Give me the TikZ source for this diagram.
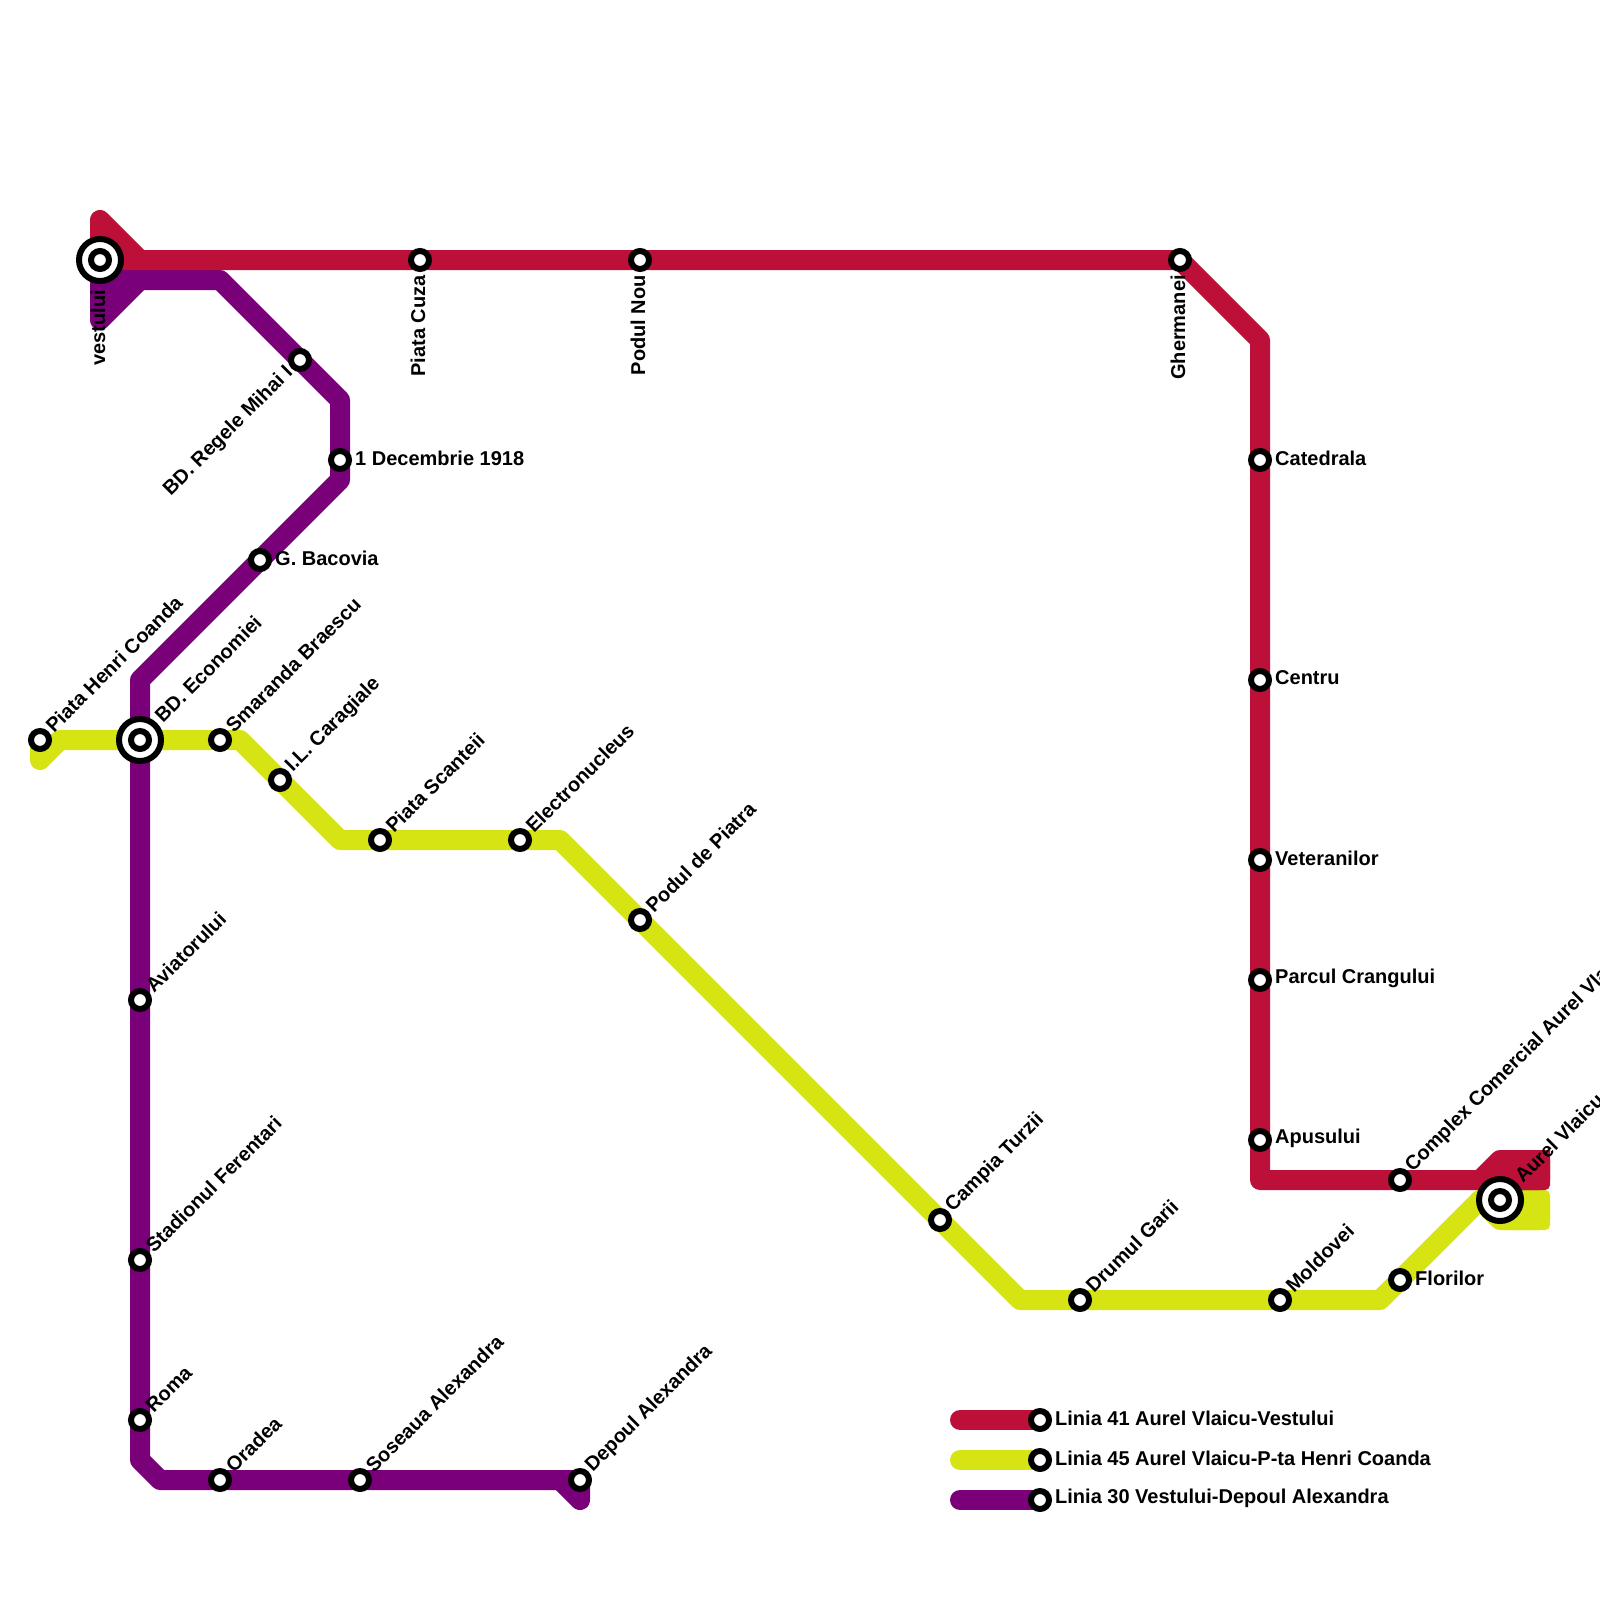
\documentclass[tikz,border=0pt]{standalone}
\usepackage{fontspec}
\setmainfont{Liberation Sans}
\usetikzlibrary{backgrounds}
\definecolor{linered}{HTML}{BC1038}
\definecolor{lineyellow}{HTML}{D7E413}
\definecolor{linepurple}{HTML}{790078}
\tikzset{
    every node/.style={font=\fontsize{20}{22}\selectfont\bfseries, inner sep=0pt},
    metro/.style={line width=20pt, line join=round, line cap=round},
    redline/.style={metro, draw=linered},
    yellowline/.style={metro, draw=lineyellow},
    purpleline/.style={metro, draw=linepurple},
    station/.style={circle, draw=black, fill=white, line width=6pt, minimum size=18pt},
    hub/.style={circle, draw=black, fill=white, line width=6pt, minimum size=42pt},
    lblup/.style={xshift=9pt, yshift=11pt, rotate=45, anchor=west},
    lblhub/.style={xshift=18pt, yshift=21pt, rotate=45, anchor=west},
    lblright/.style={xshift=15pt, yshift=2pt, anchor=west},
    lblvert/.style={yshift=#1, xshift=-2pt, rotate=90, anchor=east},
    lblvert/.default=-15pt,
    lbldown/.style={xshift=-10pt, yshift=-10pt, rotate=45, anchor=east}
}
\begin{document}
\begin{tikzpicture}[x=1pt, y=-1pt]
    \useasboundingbox (0,0) rectangle (1600,1600);

    \node[hub] (vestuluiRing) at (100,260) {};
    \node[station] (vestului) at (100,260) {};
    \node[station] (cuza) at (420,260) {};
    \node[station] (podulnou) at (640,260) {};
    \node[station] (ghermanei) at (1180,260) {};
    \node[station] (catedrala) at (1260,460) {};
    \node[station] (centru) at (1260,680) {};
    \node[station] (veteranilor) at (1260,860) {};
    \node[station] (parcul) at (1260,980) {};
    \node[station] (apusului) at (1260,1140) {};
    \node[station] (complex) at (1400,1180) {};
    \node[hub] (aurelRing) at (1500,1200) {};
    \node[station] (aurel) at (1500,1200) {};

    \node[station] (henri) at (40,740) {};
    \node[hub] (economieiRing) at (140,740) {};
    \node[station] (economiei) at (140,740) {};
    \node[station] (smaranda) at (220,740) {};
    \node[station] (caragiale) at (280,780) {};
    \node[station] (scanteii) at (380,840) {};
    \node[station] (electro) at (520,840) {};
    \node[station] (piatra) at (640,920) {};
    \node[station] (turzii) at (940,1220) {};
    \node[station] (garii) at (1080,1300) {};
    \node[station] (moldovei) at (1280,1300) {};
    \node[station] (florilor) at (1400,1280) {};

    \node[station] (mihai) at (300,360) {};
    \node[station] (decembrie) at (340,460) {};
    \node[station] (bacovia) at (260,560) {};
    \node[station] (aviatorului) at (140,1000) {};
    \node[station] (stadionul) at (140,1260) {};
    \node[station] (roma) at (140,1420) {};
    \node[station] (oradea) at (220,1480) {};
    \node[station] (soseaua) at (360,1480) {};
    \node[station] (depoul) at (580,1480) {};

    \node[station] (legendRed) at (1040,1420) {};
    \node[station] (legendYellow) at (1040,1460) {};
    \node[station] (legendPurple) at (1040,1500) {};

    \coordinate (redTop) at (100,220);
    \coordinate (redA) at (140,260);
    \coordinate (redB) at (1260,340);
    \coordinate (redC) at (1260,1180);
    \coordinate (redD) at (1480,1180);
    \coordinate (redE) at (1500,1160);
    \coordinate (redF) at (1540,1160);
    \coordinate (redG) at (1540,1180);

    \coordinate (yellowStub) at (40,760);
    \coordinate (yellowA) at (60,740);
    \coordinate (yellowB) at (240,740);
    \coordinate (yellowC) at (340,840);
    \coordinate (yellowD) at (560,840);
    \coordinate (yellowE) at (1020,1300);
    \coordinate (yellowF) at (1380,1300);
    \coordinate (yellowG) at (1480,1200);
    \coordinate (yellowH) at (1500,1220);
    \coordinate (yellowI) at (1540,1220);
    \coordinate (yellowJ) at (1540,1200);

    \coordinate (purpleStart) at (100,280);
    \coordinate (purpleStub) at (100,320);
    \coordinate (purpleA) at (140,280);
    \coordinate (purpleB) at (220,280);
    \coordinate (purpleC) at (340,400);
    \coordinate (purpleD) at (340,480);
    \coordinate (purpleE) at (140,680);
    \coordinate (purpleF) at (140,1460);
    \coordinate (purpleG) at (160,1480);
    \coordinate (purpleH) at (560,1480);
    \coordinate (purpleStubEnd) at (580,1500);

    \coordinate (legendRedStart) at (960,1420);
    \coordinate (legendYellowStart) at (960,1460);
    \coordinate (legendPurpleStart) at (960,1500);

    \begin{scope}[on background layer]
        \draw[yellowline] (henri.center) -- (yellowStub) -- (yellowA) -- (economiei.center) -- (smaranda.center) -- (yellowB) -- (caragiale.center) -- (yellowC) -- (scanteii.center) -- (electro.center) -- (yellowD) -- (piatra.center) -- (turzii.center) -- (yellowE) -- (garii.center) -- (moldovei.center) -- (yellowF) -- (florilor.center) -- (yellowG);
        \draw[yellowline, fill=lineyellow] (yellowG) -- (yellowH) -- (yellowI) -- (yellowJ) -- cycle;
        \fill[lineyellow, rounded corners=5pt] (1500,1190) -- (1550,1190) -- (1550,1230) -- (1500,1230) -- cycle;

        \draw[purpleline, fill=linepurple] (purpleStart) -- (purpleStub) -- (purpleA) -- cycle;
        \draw[purpleline] (purpleA) -- (purpleB) -- (purpleC) -- (decembrie.center) -- (purpleD) -- (bacovia.center) -- (purpleE) -- (economiei.center) -- (aviatorului.center) -- (stadionul.center) -- (roma.center) -- (purpleF) -- (purpleG) -- (oradea.center) -- (soseaua.center) -- (depoul.center);
        \draw[purpleline, fill=linepurple] (purpleH) -- (purpleStubEnd) -- (depoul.center) -- cycle;

        \draw[redline, fill=linered] (vestului.center) -- (redTop) -- (redA) -- cycle;
        \draw[redline] (redA) -- (cuza.center) -- (podulnou.center) -- (ghermanei.center) -- (redB) -- (catedrala.center) -- (centru.center) -- (veteranilor.center) -- (parcul.center) -- (apusului.center) -- (redC) -- (complex.center) -- (redD);
        \draw[redline, fill=linered] (redD) -- (redE) -- (redF) -- (redG) -- cycle;
        \fill[linered] (1500,1150) -- (1550,1150) [rounded corners=5pt] -- (1550,1190) [sharp corners] -- (1500,1190) -- cycle;

        \draw[redline] (legendRedStart) -- (legendRed.center);
        \draw[yellowline] (legendYellowStart) -- (legendYellow.center);
        \draw[purpleline] (legendPurpleStart) -- (legendPurple.center);
    \end{scope}

    \node[lblvert=-30pt] (vestuluiText) at (vestului) {vestului};
    \node[lblvert] (cuzaText) at (cuza) {Piata Cuza};
    \node[lblvert] (podulnouText) at (podulnou) {Podul Nou};
    \node[lblvert] (ghermaneiText) at (ghermanei) {Ghermanei};
    \node[lblright] (catedralaText) at (catedrala) {Catedrala};
    \node[lblright] (centruText) at (centru) {Centru};
    \node[lblright] (veteranilorText) at (veteranilor) {Veteranilor};
    \node[lblright] (parculText) at (parcul) {Parcul Crangului};
    \node[lblright] (apusuluiText) at (apusului) {Apusului};
    \node[lblup] (complexText) at (complex) {Complex Comercial Aurel Vlaicu};
    \node[lblhub] (aurelText) at (aurel) {Aurel Vlaicu};

    \node[lblup] (henriText) at (henri) {Piata Henri Coanda};
    \node[lblhub] (economieiText) at (economiei) {BD. Economiei};
    \node[lblup] (smarandaText) at (smaranda) {Smaranda Braescu};
    \node[lblup] (caragialeText) at (caragiale) {I.L. Caragiale};
    \node[lblup] (scanteiiText) at (scanteii) {Piata Scanteii};
    \node[lblup] (electroText) at (electro) {Electronucleus};
    \node[lblup] (piatraText) at (piatra) {Podul de Piatra};
    \node[lblup] (turziiText) at (turzii) {Campia Turzii};
    \node[lblup] (gariiText) at (garii) {Drumul Garii};
    \node[lblup] (moldoveiText) at (moldovei) {Moldovei};
    \node[lblright] (florilorText) at (florilor) {Florilor};

    \node[lbldown] (mihaiText) at (mihai) {BD. Regele Mihai I};
    \node[lblright] (decembrieText) at (decembrie) {1 Decembrie 1918};
    \node[lblright] (bacoviaText) at (bacovia) {G. Bacovia};
    \node[lblup] (aviatoruluiText) at (aviatorului) {Aviatorului};
    \node[lblup] (stadionulText) at (stadionul) {Stadionul Ferentari};
    \node[lblup] (romaText) at (roma) {Roma};
    \node[lblup] (oradeaText) at (oradea) {Oradea};
    \node[lblup] (sosText) at (soseaua) {Soseaua Alexandra};
    \node[lblup] (depoulText) at (depoul) {Depoul Alexandra};

    \node[lblright] (legendRedText) at (legendRed) {Linia 41 Aurel Vlaicu-Vestului};
    \node[lblright] (legendYellowText) at (legendYellow) {Linia 45 Aurel Vlaicu-P-ta Henri Coanda};
    \node[lblright] (legendPurpleText) at (legendPurple) {Linia 30 Vestului-Depoul Alexandra};
\end{tikzpicture}
\end{document}
